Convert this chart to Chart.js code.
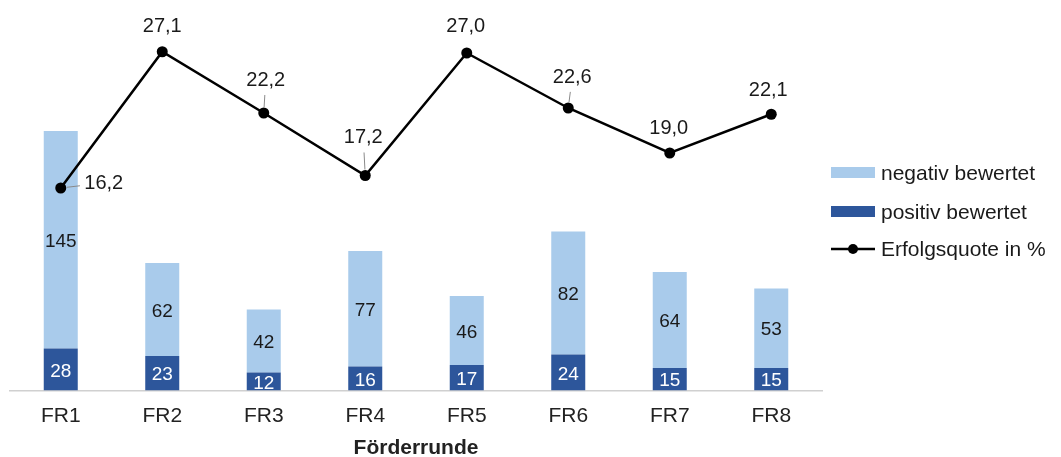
<!DOCTYPE html>
<html>
<head>
<meta charset="utf-8">
<script src="https://cdn.jsdelivr.net/npm/chart.js"></script>
<style>
  html, body { margin: 0; padding: 0; background: #fff; }
  #wrap { width: 1061px; height: 457px; position: relative; }
</style>
</head>
<body>
<div id="wrap"><canvas id="chart"></canvas></div>
<script>
// data
const categories = ['FR1', 'FR2', 'FR3', 'FR4', 'FR5', 'FR6', 'FR7', 'FR8'];
const positiv = [28, 23, 12, 16, 17, 24, 15, 15];
const negativ = [145, 62, 42, 77, 46, 82, 64, 53];
const quote = [16.2, 27.1, 22.2, 17.2, 27.0, 22.6, 19.0, 22.1];

// label placement for the line values: [dx, dy, leader line]
const quoteLabelPos = [
    [43, -5, true], [0, -25, false], [2, -33, true], [-2, -38, true],
    [-1, -27, false], [4, -31, true], [-1, -25, false], [-3, -24, false]
];

const lightBlue = '#a9cbeb';
const darkBlue = '#2d569b';
const fontFamily = '"Liberation Sans", Arial, sans-serif';

Chart.defaults.font.family = fontFamily;
Chart.defaults.color = '#222';

const fmt = v => v.toFixed(1).replace('.', ',');

const valueLabels = {
    id: 'valueLabels',
    afterDatasetsDraw(chart) {
        const ctx = chart.ctx;
        const area = chart.chartArea;

        // bar segment values
        ctx.save();
        ctx.beginPath();
        ctx.rect(area.left, area.top, area.right - area.left, area.bottom - area.top);
        ctx.clip();
        ctx.font = '19px ' + fontFamily;
        ctx.textAlign = 'center';
        ctx.textBaseline = 'middle';
        [0, 1].forEach(di => {
            const meta = chart.getDatasetMeta(di);
            meta.data.forEach((bar, i) => {
                const y = (bar.y + bar.base) / 2 + 2;
                ctx.fillStyle = di === 0 ? '#fff' : '#1a1a1a';
                ctx.fillText(String(chart.data.datasets[di].data[i]), bar.x, y);
            });
        });
        ctx.restore();

        // line values
        ctx.save();
        ctx.font = '20px ' + fontFamily;
        ctx.textAlign = 'center';
        ctx.textBaseline = 'middle';
        const meta = chart.getDatasetMeta(2);
        meta.data.forEach((pt, i) => {
            const [dx, dy, leader] = quoteLabelPos[i];
            const lx = pt.x + dx, ly = pt.y + dy;
            if (leader) {
                const len = Math.hypot(dx, dy);
                const ux = dx / len, uy = dy / len;
                const gap = Math.abs(dx) > Math.abs(dy) ? 24 : 15;
                ctx.strokeStyle = '#8a8a8a';
                ctx.lineWidth = 1;
                ctx.beginPath();
                ctx.moveTo(pt.x + ux * 6, pt.y + uy * 6);
                ctx.lineTo(lx - ux * gap, ly - uy * gap);
                ctx.stroke();
            }
            ctx.fillStyle = '#1a1a1a';
            ctx.fillText(fmt(quote[i]), lx, ly);
        });
        ctx.restore();
    }
};

const sideLegend = {
    id: 'sideLegend',
    afterDraw(chart) {
        const ctx = chart.ctx;
        const x0 = 831, x1 = 875, tx = 881;
        ctx.save();
        ctx.font = '21px ' + fontFamily;
        ctx.textAlign = 'left';
        ctx.textBaseline = 'middle';
        ctx.fillStyle = lightBlue;
        ctx.fillRect(x0, 167, x1 - x0, 11);
        ctx.fillStyle = darkBlue;
        ctx.fillRect(x0, 206, x1 - x0, 11);
        ctx.strokeStyle = '#000';
        ctx.lineWidth = 2.5;
        ctx.beginPath();
        ctx.moveTo(x0, 249);
        ctx.lineTo(x1, 249);
        ctx.stroke();
        ctx.fillStyle = '#000';
        ctx.beginPath();
        ctx.arc(853, 249, 5, 0, Math.PI * 2);
        ctx.fill();
        ctx.fillStyle = '#1a1a1a';
        ctx.fillText(chart.data.datasets[1].label, tx, 174);
        ctx.fillText(chart.data.datasets[0].label, tx, 213);
        ctx.fillText(chart.data.datasets[2].label, tx, 250);
        ctx.restore();
    }
};

const ctx = document.getElementById('chart').getContext('2d');
const chart = new Chart(ctx, {
    type: 'bar',
    data: {
        labels: categories,
        datasets: [{
            label: 'positiv bewertet',
            data: positiv,
            backgroundColor: darkBlue,
            yAxisID: 'y',
            stack: 'a',
            order: 1,
            barPercentage: 0.335,
            categoryPercentage: 1
        }, {
            label: 'negativ bewertet',
            data: negativ,
            backgroundColor: lightBlue,
            yAxisID: 'y',
            stack: 'a',
            order: 1,
            barPercentage: 0.335,
            categoryPercentage: 1
        }, {
            type: 'line',
            label: 'Erfolgsquote in %',
            data: quote,
            yAxisID: 'y1',
            borderColor: '#000',
            backgroundColor: '#000',
            borderWidth: 2.5,
            pointRadius: 5.5,
            pointBackgroundColor: '#000',
            pointBorderWidth: 0,
            tension: 0,
            order: 0,
            clip: false
        }]
    },
    options: {
        responsive: true,
        maintainAspectRatio: false,
        animation: false,
        layout: {
            padding: { left: 10, right: 239, top: 15.5, bottom: 0 }
        },
        plugins: {
            legend: { display: false },
            tooltip: { enabled: false }
        },
        scales: {
            x: {
                stacked: true,
                grid: { display: false, drawTicks: false },
                border: { color: '#d0d0d0', width: 1.5 },
                ticks: {
                    color: '#222',
                    font: { size: 21, family: fontFamily },
                    padding: 13.5
                },
                title: {
                    display: true,
                    text: 'Förderrunde',
                    color: '#222',
                    font: { size: 21, weight: 'bold', family: fontFamily, lineHeight: 1 },
                    padding: { top: 0, bottom: -1.5 }
                },
                afterFit(scale) { scale.height = 66.5; }
            },
            y: {
                display: false,
                stacked: true,
                min: 0,
                max: 250
            },
            y1: {
                display: false,
                position: 'right',
                min: 0,
                max: 30
            }
        }
    },
    plugins: [valueLabels, sideLegend]
});
</script>
</body>
</html>
